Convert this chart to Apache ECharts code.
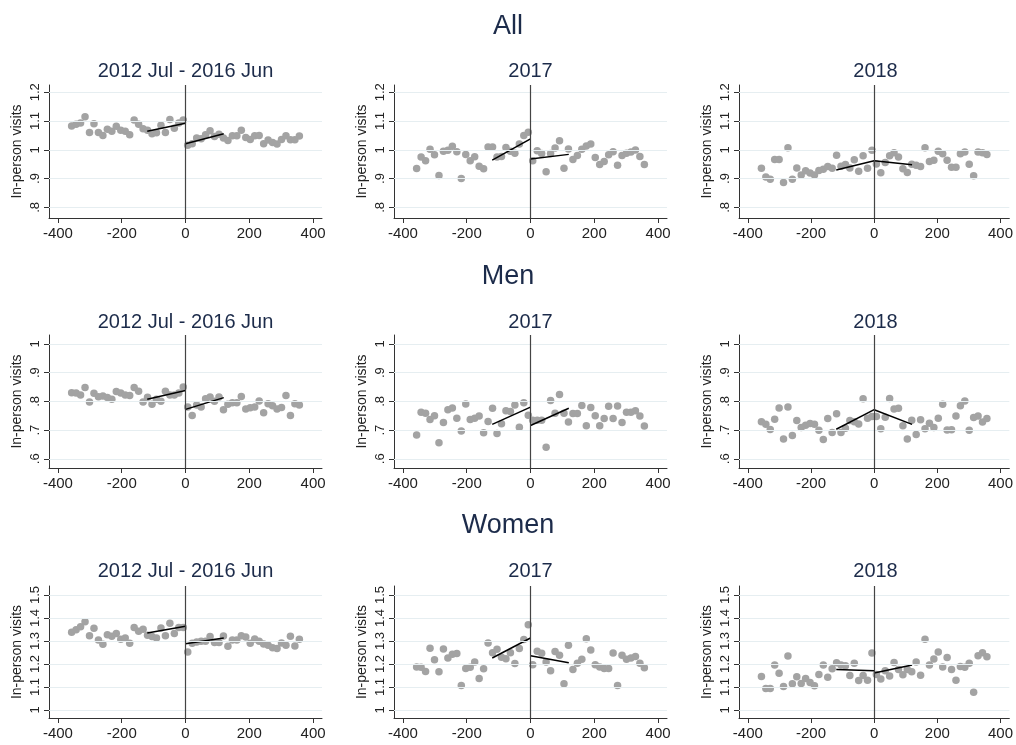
<!DOCTYPE html>
<html>
<head>
<meta charset="utf-8">
<script src="https://cdn.jsdelivr.net/npm/echarts@6/dist/echarts.min.js"></script>
<style>html,body{margin:0;padding:0;background:#fff}#c{width:1016px;height:745px}</style>
</head>
<body>
<div id="c"></div>
<script>
// ---- data ----
const xPre  = [-357,-343,-329,-315,-301,-287,-273,-259,-245,-231,-217,-203,-189,-175,-161,-147,-133,-119,-105,-91,-77,-63,-49,-35,-21,-7];
const xPost = [7,21,35,49,63,77,91,105,119,133,147,161,175,189,203,217,231,245,259,273,287,301,315,329,343,357];
const fitXPre = [-120, 0];
const fitXPost = [0, 120];
const xTicks = [-400, -200, 0, 200, 400];

const rowTitles = ['All', 'Men', 'Women'];
const colTitles = ['2012 Jul - 2016 Jun', '2017', '2018'];
const yTicksAll = [0.8, 0.9, 1, 1.1, 1.2];
const yTicksMen = [0.6, 0.7, 0.8, 0.9, 1];
const yTicksWomen = [1, 1.1, 1.2, 1.3, 1.4, 1.5];
const yAxisTitle = 'In-person visits';

// All
const allA_pre  = [1.083,1.089,1.093,1.115,1.060,1.090,1.060,1.050,1.071,1.064,1.082,1.068,1.064,1.052,1.103,1.089,1.073,1.068,1.056,1.059,1.085,1.060,1.105,1.075,1.093,1.103];
const allA_post = [1.016,1.021,1.041,1.038,1.052,1.066,1.046,1.054,1.041,1.032,1.049,1.049,1.068,1.043,1.036,1.049,1.050,1.021,1.034,1.025,1.020,1.036,1.049,1.035,1.035,1.048];
const allA_fitPre = [1.064, 1.092], allA_fitPost = [1.021, 1.056];

const allB_pre  = [0.935,0.975,0.962,1.002,0.983,0.911,0.995,0.998,1.012,0.993,0.900,0.984,0.962,0.976,0.943,0.934,1.010,1.010,0.975,0.977,1.008,0.995,0.988,1.020,1.050,1.061];
const allB_post = [0.962,0.997,0.987,0.924,0.987,1.006,1.031,0.936,1.003,0.966,0.980,1.002,1.013,1.020,0.973,0.949,0.959,0.983,0.993,0.946,0.980,0.988,0.992,0.999,0.977,0.949];
const allB_fitPre = [0.964, 1.038], allB_fitPost = [0.968, 0.984];

const allC_pre  = [0.936,0.905,0.898,0.966,0.966,0.886,1.007,0.898,0.937,0.912,0.927,0.919,0.912,0.928,0.932,0.942,0.936,0.981,0.943,0.949,0.937,0.965,0.925,0.979,0.936,0.998];
const allC_post = [0.951,0.920,0.956,0.979,0.990,0.975,0.934,0.921,0.950,0.946,0.942,1.007,0.959,0.964,0.995,0.986,0.964,0.939,0.939,0.986,0.992,0.950,0.910,0.992,0.990,0.984];
const allC_fitPre = [0.930, 0.962], allC_fitPost = [0.962, 0.948];

// Men
const menA_pre  = [0.830,0.829,0.822,0.848,0.798,0.828,0.816,0.819,0.813,0.807,0.834,0.829,0.822,0.820,0.848,0.835,0.798,0.814,0.790,0.807,0.800,0.835,0.822,0.822,0.829,0.850];
const menA_post = [0.780,0.751,0.787,0.780,0.809,0.815,0.800,0.815,0.771,0.790,0.795,0.795,0.817,0.773,0.778,0.780,0.801,0.760,0.792,0.785,0.773,0.779,0.820,0.751,0.792,0.787];
const menA_fitPre = [0.807, 0.838], menA_fitPost = [0.772, 0.813];

const menB_pre  = [0.683,0.762,0.759,0.737,0.750,0.656,0.726,0.771,0.777,0.741,0.697,0.791,0.737,0.741,0.749,0.691,0.730,0.776,0.688,0.722,0.767,0.765,0.787,0.710,0.795,0.752];
const menB_post = [0.734,0.734,0.734,0.640,0.803,0.759,0.824,0.759,0.728,0.758,0.758,0.786,0.715,0.779,0.750,0.715,0.740,0.783,0.740,0.784,0.726,0.762,0.762,0.767,0.749,0.714];
const menB_fitPre = [0.720, 0.780], menB_fitPost = [0.716, 0.776];

const menC_pre  = [0.729,0.720,0.702,0.738,0.777,0.669,0.780,0.681,0.733,0.709,0.717,0.723,0.720,0.699,0.667,0.740,0.692,0.757,0.692,0.706,0.733,0.729,0.721,0.809,0.741,0.747];
const menC_post = [0.747,0.705,0.745,0.810,0.773,0.776,0.715,0.669,0.734,0.685,0.736,0.705,0.724,0.709,0.741,0.790,0.700,0.701,0.749,0.785,0.801,0.699,0.744,0.749,0.728,0.740];
const menC_fitPre = [0.703, 0.771], menC_fitPost = [0.771, 0.720];

// Women
const womenA_pre  = [1.338,1.349,1.362,1.384,1.323,1.355,1.304,1.286,1.327,1.320,1.332,1.307,1.313,1.290,1.359,1.342,1.351,1.325,1.319,1.313,1.356,1.323,1.377,1.332,1.358,1.358];
const womenA_post = [1.252,1.290,1.296,1.299,1.299,1.319,1.293,1.293,1.322,1.277,1.304,1.304,1.323,1.317,1.290,1.309,1.299,1.287,1.281,1.271,1.267,1.291,1.281,1.320,1.278,1.307];
const womenA_fitPre = [1.335, 1.364], womenA_fitPost = [1.288, 1.313];

const womenB_pre  = [1.187,1.186,1.167,1.268,1.218,1.166,1.265,1.226,1.242,1.245,1.106,1.180,1.186,1.209,1.137,1.179,1.291,1.249,1.264,1.229,1.223,1.249,1.202,1.267,1.306,1.371];
const womenB_post = [1.197,1.255,1.247,1.208,1.171,1.254,1.238,1.114,1.281,1.176,1.203,1.221,1.310,1.261,1.197,1.187,1.180,1.180,1.248,1.106,1.238,1.221,1.226,1.232,1.203,1.184];
const womenB_fitPre = [1.226, 1.313], womenB_fitPost = [1.236, 1.205];

const womenC_pre  = [1.145,1.093,1.093,1.196,1.160,1.102,1.235,1.114,1.144,1.115,1.137,1.119,1.105,1.154,1.195,1.142,1.179,1.205,1.195,1.192,1.150,1.203,1.128,1.150,1.129,1.248];
const womenC_post = [1.154,1.135,1.170,1.148,1.206,1.176,1.153,1.176,1.166,1.208,1.151,1.307,1.195,1.222,1.252,1.187,1.228,1.176,1.129,1.189,1.186,1.203,1.077,1.236,1.249,1.231];
const womenC_fitPre = [1.176, 1.171], womenC_fitPost = [1.161, 1.195];

// ---- layout ----
const panels = [
  [allA_pre, allA_post, allA_fitPre, allA_fitPost],
  [allB_pre, allB_post, allB_fitPre, allB_fitPost],
  [allC_pre, allC_post, allC_fitPre, allC_fitPost],
  [menA_pre, menA_post, menA_fitPre, menA_fitPost],
  [menB_pre, menB_post, menB_fitPre, menB_fitPost],
  [menC_pre, menC_post, menC_fitPre, menC_fitPost],
  [womenA_pre, womenA_post, womenA_fitPre, womenA_fitPost],
  [womenB_pre, womenB_post, womenB_fitPre, womenB_fitPost],
  [womenC_pre, womenC_post, womenC_fitPre, womenC_fitPost]
];
const rowTicks = [yTicksAll, yTicksMen, yTicksWomen];
const rowRange = [[0.763, 1.225], [0.568, 1.031], [0.965, 1.539]];
const gridTops = [85, 335, 586];
const gridHeights = [133, 133, 132];
const colLefts = [49, 394, 739];
const gridW = 273;
const FONT = 'Liberation Sans, Arial, sans-serif';
const titleColor = '#1c2b4a';

const grids = [], xAxes = [], yAxes = [], series = [], titles = [];
const rowTitleY = [13, 263, 512];
const colTitleY = [61, 312, 561];
rowTitles.forEach((t, r) => titles.push({
  text: t, left: 508, top: rowTitleY[r], textAlign: 'center', padding: 0,
  textStyle: {fontFamily: FONT, fontSize: 27, fontWeight: 'normal', color: titleColor}
}));

const fmt = v => {
  let s = String(Math.round(v * 1000) / 1000);
  return s.replace(/^0\./, '.');
};

panels.forEach((p, i) => {
  const r = Math.floor(i / 3), c = i % 3;
  grids.push({left: colLefts[c], top: gridTops[r], width: gridW, height: gridHeights[r]});
  titles.push({
    text: colTitles[c], left: colLefts[c] + gridW / 2, top: colTitleY[r], textAlign: 'center', padding: 0,
    textStyle: {fontFamily: FONT, fontSize: 20, fontWeight: 'normal', color: titleColor}
  });
  xAxes.push({
    type: 'value', gridIndex: i, min: -428, max: 428,
    axisLine: {show: true, onZero: false, lineStyle: {color: '#333', width: 1}},
    axisTick: {show: true, length: 5, customValues: xTicks, lineStyle: {color: '#333'}},
    axisLabel: {customValues: xTicks, color: '#222', fontSize: 15, fontFamily: FONT, margin: 8},
    splitLine: {show: false}
  });
  yAxes.push({
    type: 'value', gridIndex: i, min: rowRange[r][0], max: rowRange[r][1],
    name: yAxisTitle, nameLocation: 'middle', nameGap: 25,
    nameTextStyle: {fontFamily: FONT, fontSize: 14, color: '#222'},
    axisLine: {show: true, onZero: false, lineStyle: {color: '#333', width: 1}},
    axisTick: {show: true, length: 5, customValues: rowTicks[r], lineStyle: {color: '#333'}},
    axisLabel: {customValues: rowTicks[r], rotate: 90, color: '#222', fontSize: 13, fontFamily: FONT, margin: 7, formatter: fmt},
    splitLine: {show: false}
  });
  // gridlines
  series.push({
    type: 'line', xAxisIndex: i, yAxisIndex: i, data: [], z: 1, silent: true,
    markLine: {
      silent: true, symbol: 'none', label: {show: false}, animation: false,
      lineStyle: {color: '#e6eef1', width: 1, type: 'solid'},
      data: rowTicks[r].map(t => ({yAxis: t}))
    }
  });
  // zero line
  series.push({
    type: 'line', xAxisIndex: i, yAxisIndex: i, data: [], z: 2, silent: true,
    markLine: {
      silent: true, symbol: 'none', label: {show: false}, animation: false,
      lineStyle: {color: '#444', width: 1.2, type: 'solid'},
      data: [{xAxis: 0}]
    }
  });
  const pts = p[0].map((v, k) => [xPre[k], v]).concat(p[1].map((v, k) => [xPost[k], v]));
  series.push({
    type: 'scatter', xAxisIndex: i, yAxisIndex: i, data: pts, z: 3,
    symbol: 'circle', symbolSize: 7.5, itemStyle: {color: '#a3a3a3', opacity: 1}
  });
  series.push({
    type: 'line', xAxisIndex: i, yAxisIndex: i, z: 4, symbol: 'none',
    data: fitXPre.map((x, k) => [x, p[2][k]]),
    lineStyle: {color: '#000', width: 1.5}
  });
  series.push({
    type: 'line', xAxisIndex: i, yAxisIndex: i, z: 4, symbol: 'none',
    data: fitXPost.map((x, k) => [x, p[3][k]]),
    lineStyle: {color: '#000', width: 1.5}
  });
});

const chart = echarts.init(document.getElementById('c'), null, {renderer: 'canvas'});
chart.setOption({
  animation: false,
  backgroundColor: '#fff',
  title: titles,
  grid: grids,
  xAxis: xAxes,
  yAxis: yAxes,
  series: series
});
</script>
</body>
</html>
